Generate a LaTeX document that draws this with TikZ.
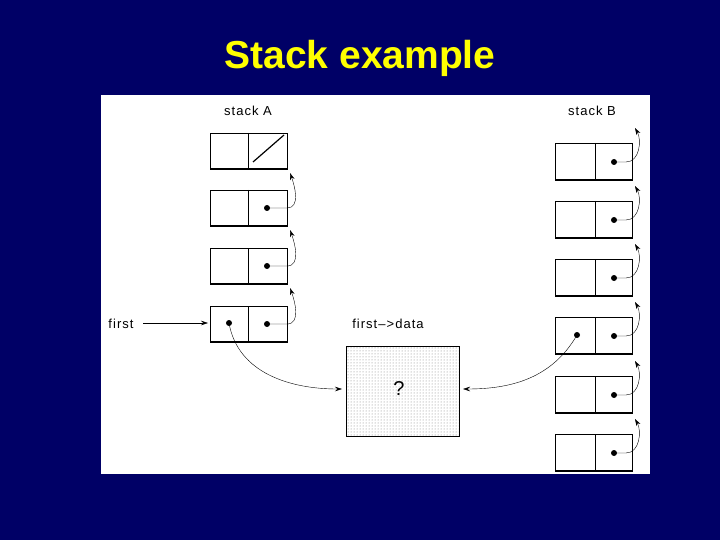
\documentclass[tikz,border=0pt]{standalone}
\usepackage{fontspec}
\setmainfont{Liberation Sans}
\usetikzlibrary{patterns,arrows.meta}
\definecolor{navy}{HTML}{000066}
\definecolor{ttl}{HTML}{FFFF00}
\begin{document}
\begin{tikzpicture}[x=1pt,y=-1pt,semithick,
  lbl/.style={font=\fontsize{13}{15}\selectfont\addfontfeatures{LetterSpace=8}},
  ptr/.style={-{Stealth[length=7pt,width=4.5pt]},thin},
  dot/.style={circle,fill=black,inner sep=0pt,minimum size=6pt}]
\fill[navy] (0,0) rectangle (720,540);
\useasboundingbox (0,0) rectangle (720,540);
\fill[white] (101,95) rectangle (650,474);
\node[ttl,font=\fontsize{39}{42}\selectfont\bfseries] (title) at (360,58) {Stack example};
\node[lbl] (la) at (248,111) {stack A};
\node[lbl] (lb) at (592,111) {stack B};
\node[lbl] (lf) at (121,324) {first};
\node[lbl] (ld) at (388,324) {first–>data};
% stack A
\foreach \i/\y in {1/133,2/190,3/248,4/306}{
  \draw (210,\y) rectangle (287,\y+36);
  \draw (248,\y) -- (248,\y+36);
  \draw[line width=2.2pt] (210,\y+36) -- (287,\y+36);
  \coordinate (a\i) at (267,\y+18);
  \coordinate (at\i) at (290,\y+40);
}
\draw[line width=1.2pt] (253,162) -- (284,135);
\foreach \i/\j in {2/1,3/2,4/3}{
  \node[dot] (da\i) at (a\i) {};
  \draw[ptr] (da\i.center) -- ++(20,0) to[out=0,in=-70] (at\j);
}
\node[dot] (df) at (229,323) {};
% stack B
\foreach \i/\y in {1/143,2/201,3/259,4/317,5/376,6/434}{
  \draw (555,\y) rectangle (632,\y+37);
  \draw (595,\y) -- (595,\y+37);
  \draw[line width=2pt] (555,\y+37) -- (632,\y+37);
  \coordinate (b\i) at (614,\y+19);
  \coordinate (bt\i) at (635,\y-15);
  \node[dot] (db\i) at (b\i) {};
  \draw[ptr] (db\i.center) -- ++(12,0) to[out=0,in=-60] (bt\i);
}
\node[dot] (dg) at (577,335) {};
% ? box
\node[draw,thick,pattern=dots,pattern color=gray,minimum width=113pt,minimum height=90pt,anchor=north west] (q) at (346,346) {};
\node[font=\fontsize{20}{22}\selectfont] (qm) at (399,389) {?};
\coordinate (fs) at (143,323);
\draw[ptr] (fs) -- (208,323);
\draw[ptr] (df.center) to[out=-80,in=180] (342,389);
\draw[ptr] (dg.center) to[out=-120,in=0] (463,389);
\end{tikzpicture}
\end{document}
